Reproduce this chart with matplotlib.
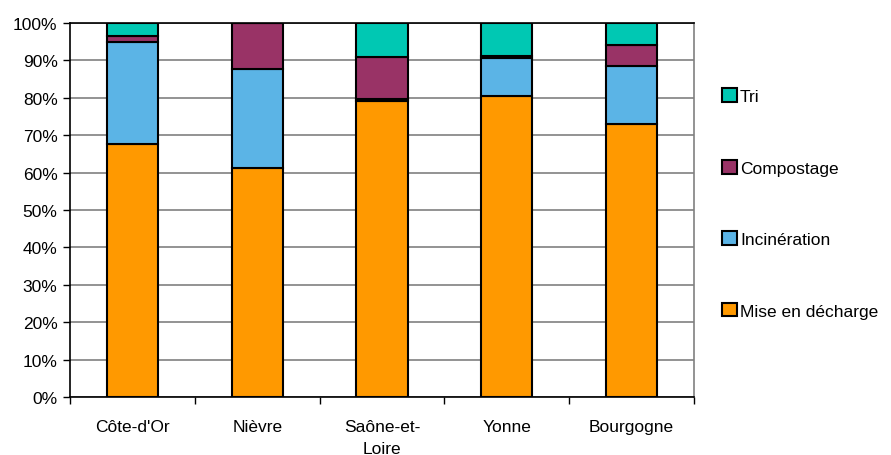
import matplotlib.pyplot as plt
import numpy as np

categories = ["Côte-d'Or", "Nièvre", "Saône-et-\nLoire", "Yonne", "Bourgogne"]
series_names = ["Mise en décharge", "Incinération", "Compostage", "Tri"]
mise_en_decharge = [67.7, 61.1, 79.2, 80.5, 73.1]
incineration = [27.2, 26.5, 0.5, 10.1, 15.4]
compostage = [1.5, 12.4, 11.3, 0.6, 5.5]
tri = [3.6, 0.0, 9.0, 8.8, 6.0]
colors = ["#FF9900", "#5BB4E6", "#993366", "#00C8B3"]

plt.rcParams["font.family"] = ["Liberation Sans", "DejaVu Sans"]
fs = 12.5

fig = plt.figure(figsize=(8.91, 4.56), dpi=100)
ax = fig.add_axes([70 / 891, 1 - 398 / 456, 624 / 891, 374 / 456])

x = np.arange(len(categories))
bottom = np.zeros(len(categories))
handles = []
for name, vals, col in zip(series_names, [mise_en_decharge, incineration, compostage, tri], colors):
    b = ax.bar(x, vals, width=0.41, bottom=bottom, color=col, edgecolor="black",
               linewidth=1.5, label=name, zorder=3)
    handles.append(b)
    bottom += np.array(vals)

ax.set_xlim(-0.5, len(categories) - 0.5)
ax.set_ylim(0, 100)
ax.set_yticks(np.arange(0, 101, 10))
ax.set_yticklabels([f"{v}%" for v in range(0, 101, 10)], fontsize=fs)
ax.set_xticks(x)
ax.set_xticklabels(categories, fontsize=fs, linespacing=1.6)
ax.tick_params(axis="x", length=0, pad=16)
ax.set_xticks(np.arange(-0.5, len(categories), 1), minor=True)
ax.tick_params(axis="x", which="minor", length=5, direction="out", width=1)
ax.tick_params(axis="y", length=5, direction="out", width=1, pad=4)

ax.yaxis.grid(True, color="#808080", linewidth=1.2, zorder=0)
ax.set_axisbelow(True)
for side in ["top", "left", "bottom"]:
    ax.spines[side].set_color("black")
    ax.spines[side].set_linewidth(1.2)
ax.spines["right"].set_color("#808080")
ax.spines["right"].set_linewidth(1.2)

leg = ax.legend(handles[::-1], series_names[::-1], loc="upper left",
                bbox_to_anchor=(1.0, 0.90), frameon=False, fontsize=fs,
                handlelength=0.85, handleheight=0.85, handletextpad=0.2,
                labelspacing=3.2, borderaxespad=1.2)

fig.savefig("out.png", dpi=100)
